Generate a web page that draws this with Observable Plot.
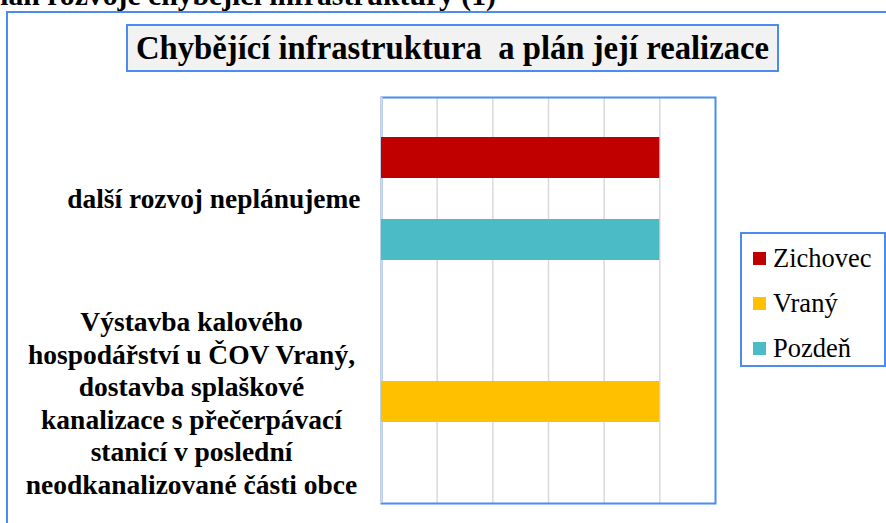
<!DOCTYPE html>
<html>
<head>
<meta charset="utf-8">
<script src="https://cdn.jsdelivr.net/npm/d3@7"></script>
<script src="https://cdn.jsdelivr.net/npm/@observablehq/plot@0.6"></script>
<style>
  html, body { margin: 0; padding: 0; background: #fff; }
  #wrap { position: relative; width: 886px; height: 523px; overflow: hidden; background: #fff; font-family: "Liberation Serif", "Times New Roman", Times, serif; }
  #wrap svg { position: absolute; left: 0; top: 0; background: transparent; }
  .ov { position: absolute; box-sizing: border-box; }
</style>
</head>
<body>
<div id="wrap"></div>
<script>
// ---- data ----
const heading = "Plán rozvoje chybějící infrastruktury (1)";
const chartTitle = "Chybějící infrastruktura  a plán její realizace";
const categories = [
  "další rozvoj neplánujeme",
  "Výstavba kalového hospodářství u ČOV Vraný, dostavba splaškové kanalizace s přečerpávací stanicí v poslední neodkanalizované části obce"
];
const categoryLabels = [
  "další rozvoj neplánujeme",
  "Výstavba kalového\nhospodářství u ČOV Vraný,\ndostavba splaškové\nkanalizace s přečerpávací\nstanicí v poslední\nneodkanalizované části obce"
];
const series = ["Zichovec", "Vraný", "Pozdeň"];
const zichovec = [1, null];
const vrany = [null, 1];
const pozden = [1, null];
const seriesColors = ["#c00000", "#ffc000", "#4bbcc6"];
const xTicks = [0, 0.2, 0.4, 0.6, 0.8, 1.0, 1.2];

// ---- table ----
const values = [zichovec, vrany, pozden];
const rows = [];
series.forEach((s, si) => {
  categories.forEach((c, ci) => {
    const v = values[si][ci];
    if (v != null) rows.push({category: c, series: s, value: v});
  });
});
const labelRows = categories.map((c, i) => ({category: c, label: categoryLabels[i]}));

const serifFont = '"Liberation Serif", "Times New Roman", Times, serif';
const blue = "#4a8cf0";
const grid = "#d9d9d9";

const chart = Plot.plot({
  width: 886,
  height: 523,
  marginLeft: 381,
  marginRight: 171,
  marginTop: 96,
  marginBottom: 20,
  style: {fontFamily: serifFont, background: "transparent", overflow: "visible"},
  x: {domain: [xTicks[0], xTicks[xTicks.length - 1]], axis: null},
  y: {domain: series, axis: null, paddingInner: 0, paddingOuter: 0.95},
  fy: {domain: categories, axis: null, padding: 0},
  color: {domain: series, range: seriesColors},
  marks: [
    Plot.ruleX(xTicks.slice(1, -1), {stroke: grid, strokeWidth: 1.5}),
    Plot.frame({facet: "super", stroke: blue, strokeWidth: 2}),
    Plot.ruleX(xTicks.slice(0, 1), {stroke: grid, strokeWidth: 2}),
    Plot.barX(rows, {x: "value", y: "series", fy: "category", fill: "series"}),
    Plot.text(labelRows.filter((d, i) => i === 0), {
      fy: "category", text: "label", frameAnchor: "left", textAnchor: "end",
      dx: -21, fontSize: 27.4, fontWeight: "bold", fill: "black", fontFamily: serifFont
    }),
    Plot.text(labelRows.filter((d, i) => i === 1), {
      fy: "category", text: "label", frameAnchor: "left", textAnchor: "middle",
      dx: -190, fontSize: 27.5, fontWeight: "bold", fill: "black", lineHeight: 1.18, fontFamily: serifFont
    })
  ]
});

const wrap = document.getElementById("wrap");

// outer chart-area border (extends beyond the visible window)
const outer = document.createElement("div");
outer.className = "ov";
Object.assign(outer.style, {left: "6px", top: "11px", width: "2000px", height: "2000px", border: `2px solid ${blue}`});
wrap.appendChild(outer);

wrap.appendChild(chart);

// cut-off heading at the very top
const head = document.createElement("div");
head.className = "ov";
head.textContent = heading;
Object.assign(head.style, {left: "-18px", top: "-19px", fontSize: "29.7px", fontWeight: "bold", whiteSpace: "nowrap", lineHeight: "1", color: "#000"});
wrap.appendChild(head);

// title box
const tb = document.createElement("div");
tb.className = "ov";
tb.textContent = chartTitle;
Object.assign(tb.style, {
  left: "126px", top: "24px", width: "653px", height: "48px",
  border: `2px solid ${blue}`, background: "#f2f2f2",
  display: "flex", alignItems: "center", justifyContent: "center",
  fontSize: "32.7px", fontWeight: "bold", lineHeight: "1", whiteSpace: "pre", color: "#000"
});
wrap.appendChild(tb);

// legend
const lg = document.createElement("div");
lg.className = "ov";
Object.assign(lg.style, {left: "740px", top: "232px", width: "146px", height: "135px", border: `2px solid ${blue}`, background: "#fff"});
series.forEach((s, i) => {
  const row = document.createElement("div");
  row.className = "ov";
  Object.assign(row.style, {left: "11px", top: `${6 + i * 45}px`, height: "36px", display: "flex", alignItems: "center", whiteSpace: "nowrap"});
  const sw = document.createElement("span");
  Object.assign(sw.style, {display: "inline-block", width: "13px", height: "13px", background: seriesColors[i], marginRight: "7px"});
  const tx = document.createElement("span");
  tx.textContent = s;
  Object.assign(tx.style, {fontSize: "26.5px", lineHeight: "1", color: "#000"});
  row.appendChild(sw);
  row.appendChild(tx);
  lg.appendChild(row);
});
wrap.appendChild(lg);
</script>
</body>
</html>
